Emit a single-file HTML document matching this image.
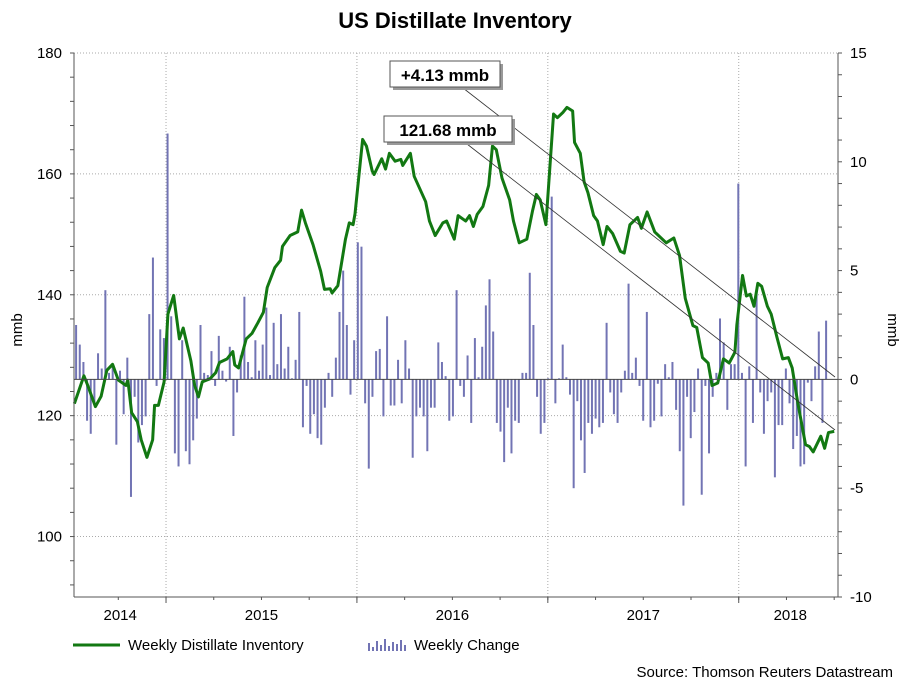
<!DOCTYPE html>
<html><head><meta charset="utf-8"><style>
body{margin:0;background:#fff;width:909px;height:682px;overflow:hidden;font-family:"Liberation Sans",sans-serif}
svg text{font-family:"Liberation Sans",sans-serif}
</style></head><body>
<svg id="chart" width="909" height="682">
<text x="455" y="28" text-anchor="middle" font-size="22" font-weight="bold">US Distillate Inventory</text>
<g id="grid"></g><g id="bars"></g><g id="line"></g><g id="axes"></g>
<g>
<line x1="463" y1="88" x2="835" y2="377" stroke="#333" stroke-width="0.8"/>
<rect x="393" y="64" width="110" height="26" fill="#999"/>
<rect x="390" y="61" width="110" height="26" fill="#fff" stroke="#555"/>
<text x="445" y="81" text-anchor="middle" font-size="17" font-weight="bold">+4.13 mmb</text>
</g>
<g>
<line x1="467" y1="144" x2="835" y2="430" stroke="#333" stroke-width="0.8"/>
<rect x="387" y="119" width="128" height="26" fill="#999"/>
<rect x="384" y="116" width="128" height="26" fill="#fff" stroke="#555"/>
<text x="448" y="136" text-anchor="middle" font-size="17" font-weight="bold">121.68 mmb</text>
</g>
<text transform="translate(22,330) rotate(-90)" text-anchor="middle" font-size="15">mmb</text>
<text transform="translate(888,330) rotate(90)" text-anchor="middle" font-size="15">mmb</text>
<g>
<line x1="73" y1="645" x2="120" y2="645" stroke="#127812" stroke-width="3"/>
<text x="128" y="650" font-size="15">Weekly Distillate Inventory</text></g>
<g id="legbars">
<text x="414" y="650" font-size="15">Weekly Change</text></g>
<text x="893" y="677" text-anchor="end" font-size="15">Source: Thomson Reuters Datastream</text>
</svg>
<script>
const lineDates=[2014.52,2014.57,2014.59,2014.63,2014.66,2014.69,2014.72,2014.75,2014.79,2014.80,2014.82,2014.85,2014.87,2014.90,2014.93,2014.94,2014.96,2014.99,2015.01,2015.04,2015.07,2015.09,2015.13,2015.15,2015.17,2015.19,2015.23,2015.26,2015.28,2015.32,2015.35,2015.36,2015.38,2015.42,2015.45,2015.48,2015.51,2015.53,2015.57,2015.60,2015.61,2015.65,2015.69,2015.71,2015.73,2015.77,2015.81,2015.83,2015.86,2015.87,2015.90,2015.94,2015.96,2015.98,2015.99,2016.03,2016.05,2016.08,2016.09,2016.13,2016.15,2016.17,2016.20,2016.23,2016.24,2016.28,2016.30,2016.36,2016.38,2016.41,2016.45,2016.47,2016.51,2016.53,2016.57,2016.59,2016.61,2016.63,2016.66,2016.69,2016.71,2016.73,2016.76,2016.80,2016.82,2016.85,2016.89,2016.92,2016.94,2016.96,2016.99,2017.03,2017.05,2017.08,2017.10,2017.13,2017.14,2017.17,2017.19,2017.21,2017.24,2017.26,2017.29,2017.31,2017.34,2017.38,2017.40,2017.43,2017.47,2017.49,2017.52,2017.56,2017.60,2017.62,2017.66,2017.69,2017.72,2017.76,2017.78,2017.81,2017.84,2017.86,2017.89,2017.92,2017.95,2017.98,2017.99,2018.02,2018.04,2018.06,2018.08,2018.10,2018.12,2018.15,2018.17,2018.20,2018.23,2018.26,2018.28,2018.31,2018.35,2018.37,2018.39,2018.43,2018.45,2018.47,2018.50];
const lineValues=[122.0,126.6,125,121.5,123.2,127.5,128.5,125.9,125,125.9,120.5,119,116,113.1,116,121.7,121.7,125.6,136.8,139.9,132.7,134.5,129.1,125,123.1,125.6,126.1,127.1,128.8,129.4,130.6,128.4,127.9,132.7,133.6,135.3,137.1,141.2,144.5,145.7,148,149.8,150.4,154,151.9,148.3,143.9,140.9,141,140.3,141.5,149.2,151.9,151.6,153.4,165.7,164.6,160.5,159.9,162.5,160.8,163.4,162.1,162.4,161.4,163.4,159.6,155.4,152.2,149.8,151.9,152.2,149.2,153.1,152.2,153.1,151.3,153.3,154.6,158.1,164.6,164,159.3,155.7,152.2,148.6,149.2,153.9,156.6,155.7,151.6,169.9,169.3,170.2,171,170.4,165.2,163.4,158.7,156.9,153.1,152.2,148.3,151.3,150.1,147.2,146.9,151.6,152.8,151,153.7,150.4,149.2,148.6,149.4,146.5,139.4,134.9,134.6,129.6,128.7,125,125.4,129.4,128.7,130.5,135,143.2,139.8,140.1,138.1,141.9,141.4,138.1,136.8,133,129.4,129.6,127.9,122,115.2,114.9,114,116.6,114.6,117.2,117.4];
const barStart=2014.529;
const barValues=[2.5,1.6,0.8,-1.9,-2.5,-1.1,1.2,0.5,4.1,0.3,0.6,-3.0,0.4,-1.6,1.0,-5.4,-0.8,-2.9,-2.1,-1.7,3.0,5.6,-0.3,2.3,1.9,11.3,2.9,-3.4,-4.0,1.8,-3.3,-3.9,-2.8,-1.8,2.5,0.3,0.2,1.3,-0.3,2.0,0.4,-0.1,1.5,-2.6,-0.6,1.1,3.8,0.8,0.1,1.8,0.4,1.6,3.3,0.2,2.6,0.7,3.0,0.5,1.5,0.05,0.9,3.1,-2.2,-0.3,-2.5,-1.6,-2.7,-3.0,-1.3,0.3,-0.8,1.0,3.1,5.0,2.5,-0.7,1.8,6.3,6.1,-1.1,-4.1,-0.8,1.3,1.4,-1.7,2.9,-1.2,-1.2,0.9,-1.1,1.8,0.5,-3.6,-1.7,-1.3,-1.7,-3.3,-1.3,-1.3,1.7,0.8,0.15,-1.9,-1.7,4.1,-0.3,-0.8,1.1,-2.0,1.9,0.1,1.5,3.4,4.6,2.2,-2.0,-2.4,-3.8,-1.3,-3.4,-1.9,-2.0,0.3,0.3,4.9,2.5,-0.8,-2.5,-2.0,0.05,8.4,-1.1,0.05,1.6,0.1,-0.7,-5.0,-1.0,-2.8,-4.3,-2.0,-2.5,-1.8,-2.2,-2.0,2.6,-0.6,-1.6,-2.0,-0.6,0.4,4.4,0.3,1.0,-0.3,-1.9,3.1,-2.2,-1.9,-0.2,-1.7,0.7,0.1,0.8,-1.4,-3.3,-5.8,-0.8,-2.7,-1.5,0.5,-5.3,-0.3,-3.4,-0.8,0.3,2.8,1.7,-1.4,0.7,0.7,9.0,0.3,-4.0,0.6,-2.0,4.1,-0.6,-2.5,-1.0,-0.6,-4.5,-2.1,-2.1,0.5,-1.1,-3.2,-2.6,-4.0,-3.9,-0.15,-1.0,0.6,2.2,-2.0,2.7];
const leftTicks=[100,120,140,160,180];
const rightTicks=[-10,-5,0,5,10,15];
const yearLabels=["2014","2015","2016","2017","2018"];
const yearLabelDates=[2014.76,2015.5,2016.5,2017.5,2018.27];

const NS="http://www.w3.org/2000/svg";
const X0=74,X1=838,Y0=53,Y1=597,T0=2014.518,T1=2018.52;
const xs=t=>X0+(t-T0)/(T1-T0)*(X1-X0);
const yl=v=>Y1-(v-90)/90*(Y1-Y0);
const yr=v=>Y1-(v+10)/25*(Y1-Y0);
function mk(tag,attrs,parent){const e=document.createElementNS(NS,tag);for(const k in attrs)e.setAttribute(k,attrs[k]);parent.appendChild(e);return e;}
const grid=document.getElementById('grid'),axes=document.getElementById('axes');
for(const v of leftTicks){const g=mk('line',{x1:X0,x2:X1,y1:yl(v),y2:yl(v),stroke:'#aaa','stroke-dasharray':'1,2'},grid);


const t=mk('text',{x:62,y:yl(v)+5,'text-anchor':'end','font-size':15},axes);t.textContent=v;

}
for(let v=92;v<=180;v+=4)mk('line',{x1:X0-4,x2:X0,y1:yl(v),y2:yl(v),stroke:'#555'},axes);
for(const v of rightTicks){const t=mk('text',{x:850,y:yr(v)+5,'font-size':15},axes);t.textContent=v;

}
for(let v=-10;v<=15;v++)mk('line',{x1:X1,x2:X1+4,y1:yr(v),y2:yr(v),stroke:'#555'},axes);
for(let y=2015;y<=2018;y++){const g=mk('line',{x1:xs(y),x2:xs(y),y1:Y0,y2:Y1,stroke:'#aaa','stroke-dasharray':'1,2'},grid);


mk('line',{x1:xs(y),x2:xs(y),y1:Y1,y2:Y1+6,stroke:'#555'},axes);}
for(let q=2014.75;q<T1;q+=0.25)mk('line',{x1:xs(q),x2:xs(q),y1:Y1,y2:Y1+3,stroke:'#555'},axes);
yearLabels.forEach((s,i)=>{const t=mk('text',{x:xs(yearLabelDates[i]),y:620,'text-anchor':'middle','font-size':15},axes);t.textContent=s;

});
mk('line',{x1:X0,x2:X1,y1:Y0,y2:Y0,stroke:'#aaa','stroke-dasharray':'1,2'},grid);
mk('line',{x1:X0,x2:X0,y1:Y0,y2:Y1,stroke:'#555'},axes);
mk('line',{x1:X1,x2:X1,y1:Y0,y2:Y1,stroke:'#555'},axes);
mk('line',{x1:X0,x2:X1,y1:Y1,y2:Y1,stroke:'#555'},axes);
const zl=mk('line',{x1:X0,x2:X1,y1:yr(0),y2:yr(0),stroke:'#444'},axes);


const bars=document.getElementById('bars');
barValues.forEach((v,i)=>{const x=xs(barStart+i/52.18);const y0=yr(0),y=yr(v);
const r=mk('rect',{x:x-1,y:Math.min(y0,y),width:2,height:Math.max(0.5,Math.abs(y-y0)),fill:'#7274b4'},bars);

});
const p=mk('polyline',{points:lineValues.map((v,i)=>xs(lineDates[i])+','+yl(v)).join(' '),fill:'none',stroke:'#127812','stroke-width':3,'stroke-linejoin':'round'},document.getElementById('line'));


const lb=document.getElementById('legbars');
[8,4,10,6,12,5,9,7,11,6].forEach((h,i)=>mk('rect',{x:368+i*4,y:651-h,width:2,height:h,fill:'#7274b4'},lb));
</script>
</body></html>
